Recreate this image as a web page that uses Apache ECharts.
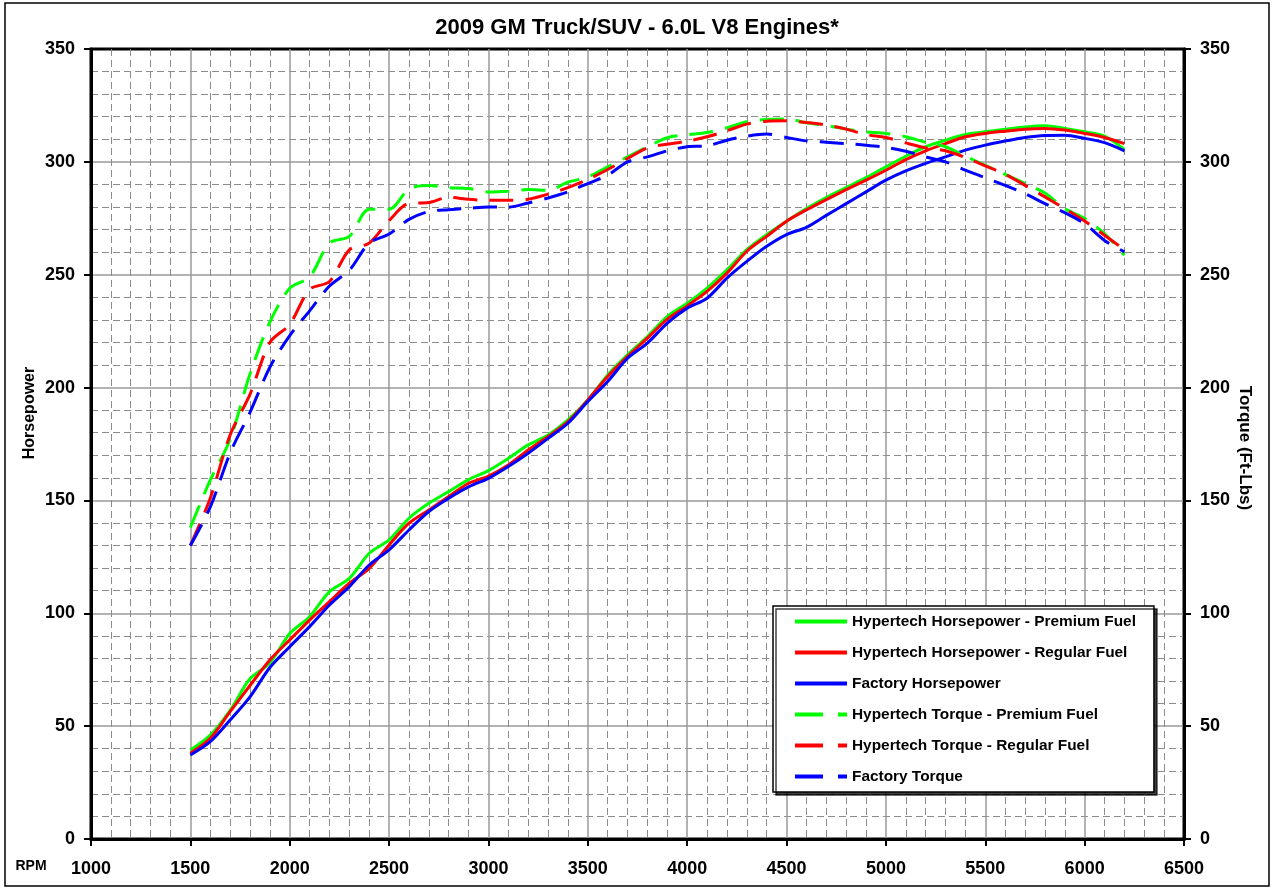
<!DOCTYPE html>
<html>
<head>
<meta charset="utf-8">
<script src="https://cdn.jsdelivr.net/npm/echarts@6/dist/echarts.min.js"></script>
<style>
html,body{margin:0;padding:0;background:#fff;}
#chart{width:1274px;height:890px;}
</style>
</head>
<body>
<div id="chart"></div>
<script>
var rpm = [1500,1600,1700,1800,1900,2000,2100,2200,2300,2400,2500,2600,2700,2800,2900,3000,3100,3200,3300,3400,3500,3600,3700,3800,3900,4000,4100,4200,4300,4400,4500,4600,4700,4800,4900,5000,5100,5200,5300,5400,5500,5600,5700,5800,5900,6000,6100,6200];

var hpPremium = [39.4,46,57,71,78,91,98.5,109.6,115.5,126.6,132.5,142.1,148.7,153.9,159.2,163.2,168.6,174.6,179,185.7,194.5,205.6,214.5,222.6,231.5,237.4,244.1,252.2,261.1,267.8,273.7,279.3,284.2,288.6,293,297.8,302.5,306.7,309.6,312.1,313.3,314.4,315.5,316,314.8,313.3,311.4,305.5];
var hpRegular = [38,44.6,56.4,68,79.3,88.2,97,105.2,113.3,119.9,130.3,139.9,145.8,151.7,157.6,160.8,165.7,172.3,178.3,184.9,194.5,204.9,213.8,221.9,230.3,236.2,242.6,250.7,260.4,267,273.7,278.7,283.3,287.7,291.9,296.3,301,304.9,308.1,311.1,312.6,313.6,314.5,314.8,314.1,312.6,310.8,308.1];
var hpFactory = [37.2,43.1,52.7,63,76,85.2,94.1,103.7,111.8,121.4,128.1,136.9,145.1,151,156,159.8,165,170.9,177.5,184.2,193.8,202.7,213,219.7,228.6,235.2,239.6,248.5,255.9,262.6,267.8,271,276.3,281.5,286.7,291.9,296,299.3,302.2,305.2,307.4,309.2,310.8,311.7,311.8,310.4,308.5,304.9];

var tqPremium = [138,159,177,206,229,244,249,264,267,279,279,288,289.5,288.6,288.2,286.7,287,287.7,287.4,291,293.3,297.8,302.2,306.7,310.7,312,313,315.1,317.8,318.8,319,317.3,316.1,314.5,313.3,312.6,311.1,308.7,306.7,302.5,298.5,294.5,290.4,286.2,279.3,274.9,268.2,258.6];
var tqRegular = [130,151,179,197,220,228,243.5,247,261,264,274,281.6,282,284.3,283.4,283,283,283.4,285.7,288.6,292.2,296.6,301.5,306.2,307.8,309.2,311.1,313.8,316.7,318,318.2,317.4,316.3,314.5,312.1,310.8,308.4,306.2,304.9,301.9,298.2,294.5,289.6,284.5,279.3,273.8,267.5,261.1];
var tqFactory = [130,147,171,189,209,223,234,245,252,264,268,274.5,278,278.8,279.4,280,279.9,281.8,284,286.7,290.4,294.1,300,302.2,304.9,306.7,307.1,309.6,311.4,312.3,310.8,309.3,308.7,308.1,307.4,306.4,304.7,302.2,300,296.3,292.9,289.6,285.9,281.5,277.5,272.6,265.2,260.1];

var seriesNames = ['Hypertech Horsepower - Premium Fuel','Hypertech Horsepower - Regular Fuel','Factory Horsepower','Hypertech Torque - Premium Fuel','Hypertech Torque - Regular Fuel','Factory Torque'];
var titleText = '2009 GM Truck/SUV - 6.0L V8 Engines*';
var leftAxisName = 'Horsepower';
var rightAxisName = 'Torque (Ft-Lbs)';
var xAxisName = 'RPM';

var FONT = "'Liberation Sans', Arial, sans-serif";
var GREEN = '#00ff00', RED = '#ff0000', BLUE = '#0000ff';

function pairs(vals){ return rpm.map(function(r,i){ return [r, vals[i]]; }); }

function axisCommon(){
  return {
    min: 0, max: 350, interval: 50,
    axisLine: {show:true, lineStyle:{color:'#000', width:3}},
    axisTick: {show:true, length:7, lineStyle:{color:'#000', width:2}},
    axisLabel: {color:'#000', fontFamily:FONT, fontWeight:'bold', fontSize:18, margin:16},
    minorTick: {show:false, splitNumber:5}
  };
}

var yLeft = axisCommon();
yLeft.position = 'left';
yLeft.splitLine = {show:true, showMinLine:false, showMaxLine:false, lineStyle:{color:'#9a9a9a', width:1.5}};
yLeft.minorSplitLine = {show:true, lineStyle:{color:'#8c8c8c', width:1, type:[7,4]}};

var yRight = axisCommon();
yRight.position = 'right';
yRight.splitLine = {show:false};
yRight.minorSplitLine = {show:false};

var hpStyle = function(c){ return {color:c, width:3, type:'solid'}; };
var tqStyle = function(c){ return {color:c, width:3, type:[24,12]}; };

var colors = [GREEN, RED, BLUE, GREEN, RED, BLUE];
var datasets = [hpPremium, hpRegular, hpFactory, tqPremium, tqRegular, tqFactory];

var series = datasets.map(function(d, i){
  var isTq = i >= 3;
  return {
    name: seriesNames[i],
    type: 'line',
    yAxisIndex: isTq ? 1 : 0,
    data: pairs(d),
    symbol: 'none',
    smooth: 0.3,
    color: colors[i],
    lineStyle: isTq ? tqStyle(colors[i]) : hpStyle(colors[i]),
    z: 3 + i,
    animation: false
  };
});

var option = {
  animation: false,
  backgroundColor: '#fff',
  title: {
    text: titleText,
    left: 'center', top: 12,
    textStyle: {fontFamily:FONT, fontWeight:'bold', fontSize:22, color:'#000'}
  },
  grid: {left:91, top:49, width:1093, height:790, show:true, borderColor:'#000', borderWidth:3, backgroundColor:'transparent'},
  xAxis: {
    type:'value', min:1000, max:6500, interval:500,
    axisLine:{show:true, onZero:false, lineStyle:{color:'#000', width:3}},
    axisTick:{show:true, length:7, lineStyle:{color:'#000', width:2}},
    axisLabel:{color:'#000', fontFamily:FONT, fontWeight:'bold', fontSize:18, margin:21, formatter:function(v){ return String(v); }},
    splitLine:{show:true, showMinLine:false, showMaxLine:false, lineStyle:{color:'#9a9a9a', width:1.5}},
    minorTick:{show:false, splitNumber:5},
    minorSplitLine:{show:true, lineStyle:{color:'#8c8c8c', width:1, type:[7,4]}}
  },
  yAxis: [yLeft, yRight],
  legend: {
    orient:'vertical', left:773, top:606,
    itemWidth:52, itemHeight:16, itemGap:16,
    padding:[8,18,8,20],
    backgroundColor:'#fff', borderColor:'#000', borderWidth:1.5,
    shadowColor:'rgba(0,0,0,0.75)', shadowBlur:0, shadowOffsetX:3, shadowOffsetY:3,
    textStyle:{fontFamily:FONT, fontWeight:'bold', fontSize:15.4, color:'#000'},
    data: seriesNames.map(function(n, i){
      return {
        name:n,
        itemStyle:{opacity:0},
        lineStyle: i >= 3 ? {type:[28,15], width:4} : {width:4}
      };
    })
  },
  graphic: [
    {type:'rect', shape:{x:5, y:3, width:1264, height:883}, style:{fill:'none', stroke:'#000', lineWidth:1.5}, silent:true, z:-1},
    {type:'text', x:30, y:413, rotation:Math.PI/2, style:{text:leftAxisName, fontFamily:FONT, fontWeight:'bold', fontSize:16, fill:'#000', textAlign:'center', textVerticalAlign:'middle'}},
    {type:'text', x:1245, y:448, rotation:-Math.PI/2, style:{text:rightAxisName, fontFamily:FONT, fontWeight:'bold', fontSize:17, fill:'#000', textAlign:'center', textVerticalAlign:'middle'}},
    {type:'text', x:31, y:866, style:{text:xAxisName, fontFamily:FONT, fontWeight:'bold', fontSize:14, fill:'#000', textAlign:'center', textVerticalAlign:'middle'}}
  ],
  series: series
};

var chart = echarts.init(document.getElementById('chart'), null, {renderer:'canvas'});
chart.setOption(option);
</script>
</body>
</html>
